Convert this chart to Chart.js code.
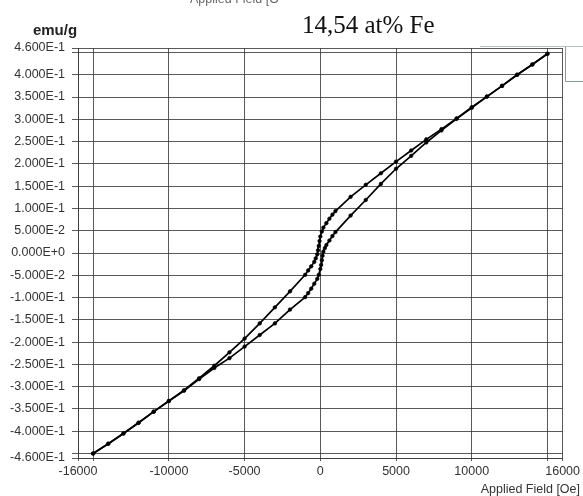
<!DOCTYPE html>
<html>
<head>
<meta charset="utf-8">
<script src="https://cdn.jsdelivr.net/npm/chart.js@4.4.1/dist/chart.umd.min.js"></script>
<style>
  html, body { margin: 0; padding: 0; background: #fff; }
  #wrap { width: 583px; height: 496px; position: relative; }
</style>
</head>
<body>
<div id="wrap"><canvas id="c" width="583" height="496"></canvas></div>
<script>
// Hysteresis loop, 14,54 at% Fe: magnetisation (emu/g) vs applied field (Oe)

// Descending branch: field swept from +15000 Oe to -15000 Oe
const fieldDown = [15000, 14000, 13000, 12000, 11000, 10000, 9000, 8000, 7000, 6000, 5000, 4000, 3000, 2000, 1000,
  800, 600, 400, 200, 100, 0, -50, -100, -150, -200, -300, -400, -600, -800,
  -1000, -2000, -3000, -4000, -5000, -6000, -7000, -8000, -9000, -10000, -11000, -12000, -13000, -14000, -15000];
const momentDown = [0.447, 0.423, 0.400, 0.375, 0.351, 0.327, 0.302, 0.278, 0.255, 0.230, 0.205, 0.179, 0.153, 0.126, 0.094,
  0.086, 0.077, 0.067, 0.057, 0.048, 0.037, 0.027, 0.016, 0.006, -0.003, -0.012, -0.020, -0.030, -0.039,
  -0.049, -0.086, -0.122, -0.158, -0.192, -0.223, -0.253, -0.281, -0.308, -0.332, -0.356, -0.381, -0.405, -0.428, -0.450];

// Ascending branch: field swept back from -15000 Oe to +15000 Oe
const fieldUp = [-15000, -14000, -13000, -12000, -11000, -10000, -9000, -8000, -7000, -6000, -5000, -4000, -3000, -2000, -1000,
  -800, -600, -400, -200, -100, 0, 50, 100, 150, 200, 300, 400, 600, 800,
  1000, 2000, 3000, 4000, 5000, 6000, 7000, 8000, 9000, 10000, 11000, 12000, 13000, 14000, 15000];
const momentUp = [-0.450, -0.428, -0.405, -0.381, -0.356, -0.332, -0.309, -0.283, -0.258, -0.236, -0.210, -0.184, -0.158, -0.127, -0.099,
  -0.090, -0.080, -0.069, -0.058, -0.049, -0.036, -0.027, -0.016, -0.006, 0.003, 0.011, 0.018, 0.028, 0.038,
  0.047, 0.084, 0.119, 0.155, 0.189, 0.218, 0.248, 0.275, 0.301, 0.326, 0.351, 0.375, 0.400, 0.423, 0.447];

// Axis ticks (gridlines); the ones listed in the *Unlabelled arrays get a line but no text
const xTicks = [-16000, -15000, -10000, -5000, 0, 5000, 10000, 15000, 16000];
const xUnlabelled = [-15000, 15000];
const yTicks = [-0.46, -0.45, -0.40, -0.35, -0.30, -0.25, -0.20, -0.15, -0.10, -0.05, 0, 0.05, 0.10, 0.15, 0.20, 0.25, 0.30, 0.35, 0.40, 0.45, 0.46];
const yUnlabelled = [-0.45, 0.45];

const chartTitle = '14,54 at% Fe';
const yUnit = 'emu/g';
const xTitle = 'Applied Field [Oe]';
const headerFragment = 'Applied Field [O';

const toPoints = (xs, ys) => xs.map((x, i) => ({ x: x, y: ys[i] }));

const gridColor = 'rgba(60,60,60,0.85)';
const tickFont = { family: '"Liberation Sans", Arial, sans-serif', size: 12.5 };

const decorations = {
  id: 'decorations',
  afterDraw(chart) {
    const ctx = chart.ctx;
    ctx.save();
    // clipped header text along the top edge
    ctx.beginPath();
    ctx.rect(0, 0, 280, 20);
    ctx.clip();
    ctx.fillStyle = '#666';
    ctx.font = '12.5px "Liberation Sans", Arial, sans-serif';
    ctx.textAlign = 'left';
    ctx.textBaseline = 'alphabetic';
    ctx.fillText(headerFragment, 190, 3);
    ctx.restore();

    ctx.save();
    // unit label above the value axis
    ctx.fillStyle = '#222';
    ctx.font = 'bold 15px "Liberation Sans", Arial, sans-serif';
    ctx.textAlign = 'center';
    ctx.textBaseline = 'middle';
    ctx.fillText(yUnit, 55, 31);

    // composition title
    ctx.fillStyle = '#111';
    ctx.font = '25px "Liberation Serif", "Times New Roman", serif';
    ctx.textAlign = 'left';
    ctx.textBaseline = 'alphabetic';
    ctx.fillText(chartTitle, 302, 33);

    // field axis title
    ctx.fillStyle = '#333';
    ctx.font = '12.5px "Liberation Sans", Arial, sans-serif';
    ctx.textAlign = 'right';
    ctx.textBaseline = 'middle';
    ctx.fillText(xTitle, 580, 490);

    // thin frame pieces at the top right
    ctx.lineWidth = 1;
    ctx.strokeStyle = '#b8c4c0';
    ctx.beginPath();
    ctx.moveTo(480, 46.5); ctx.lineTo(583, 46.5);
    ctx.stroke();
    ctx.strokeStyle = '#7f9e96';
    ctx.beginPath();
    ctx.moveTo(565.5, 46.5); ctx.lineTo(565.5, 81.5); ctx.lineTo(583, 81.5);
    ctx.stroke();
    ctx.restore();
  }
};

const branchStyle = {
  showLine: true,
  borderColor: '#000',
  backgroundColor: '#000',
  borderWidth: 1.7,
  pointRadius: 1.8,
  pointBorderWidth: 0.6,
  pointHoverRadius: 1.8,
  tension: 0
};

new Chart(document.getElementById('c'), {
  type: 'scatter',
  data: {
    datasets: [
      Object.assign({ label: 'descending', data: toPoints(fieldDown, momentDown) }, branchStyle),
      Object.assign({ label: 'ascending', data: toPoints(fieldUp, momentUp) }, branchStyle)
    ]
  },
  options: {
    responsive: false,
    animation: false,
    events: [],
    layout: { padding: { left: 0, top: 48, right: 19, bottom: 0 } },
    plugins: {
      legend: { display: false },
      tooltip: { enabled: false },
      title: { display: false }
    },
    scales: {
      x: {
        type: 'linear',
        min: -16000,
        max: 16000,
        afterBuildTicks: (scale) => { scale.ticks = xTicks.map(v => ({ value: v })); },
        afterFit: (scale) => { scale.height = 38; },
        grid: { color: gridColor, lineWidth: 1, tickLength: 3, drawTicks: true },
        border: { color: gridColor, width: 1 },
        ticks: {
          autoSkip: false,
          maxRotation: 0,
          padding: 3,
          color: '#333',
          font: tickFont,
          callback: (v) => xUnlabelled.includes(v) ? '' : String(v)
        }
      },
      y: {
        type: 'linear',
        min: -0.46,
        max: 0.46,
        afterBuildTicks: (scale) => { scale.ticks = yTicks.map(v => ({ value: v })); },
        afterFit: (scale) => { scale.width = 78; },
        grid: { color: gridColor, lineWidth: 1, tickLength: 6, drawTicks: true },
        border: { color: gridColor, width: 1 },
        ticks: {
          autoSkip: false,
          padding: 7,
          color: '#333',
          font: tickFont,
          callback: (v) => yUnlabelled.includes(v) ? '' : v.toExponential(3).toUpperCase()
        }
      }
    }
  },
  plugins: [decorations]
});
</script>
</body>
</html>
